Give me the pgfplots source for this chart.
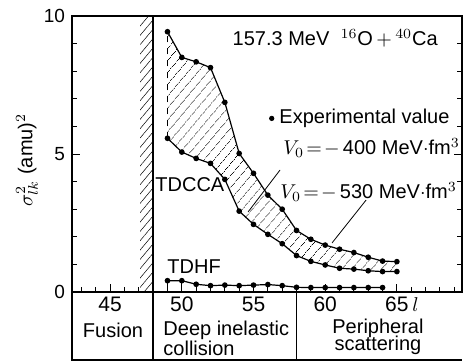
\documentclass[border=0pt]{standalone}
\usepackage{fontspec}
\setmainfont{Liberation Sans}
\usepackage{pgfplots}
\pgfplotsset{compat=1.18}
\usepgfplotslibrary{fillbetween}
\usetikzlibrary{patterns,patterns.meta}

\begin{document}
\begin{tikzpicture}
\begin{axis}[
  at={(0,0)}, anchor=south west,
  scale only axis, width=195pt, height=138pt,
  xmin=42.34, xmax=69.54, ymin=0, ymax=10,
  xtick={45,50,55,60,65},
  minor xtick={43,44,46,47,48,49,51,52,53,54,56,57,58,59,61,62,63,64,66,67,68,69},
  ytick={0,5,10},
  minor ytick={1,2,3,4,6,7,8,9},
  xtick pos=left, ytick pos=both,
  tick align=inside,
  major tick length=4pt, minor tick length=2.5pt,
  axis line style={line width=0.7pt},
  tick style={line width=0.5pt, black},
  clip=false,
  /pgf/number format/assume math mode=true,
  xticklabel style={font=\fontsize{10.5}{12}\selectfont, yshift=1pt},
  yticklabel style={font=\fontsize{9.5}{11}\selectfont},
]
% fusion hatched band
\addplot[draw=none, pattern={Lines[angle=50,distance=3pt,line width=0.25pt]}]
  coordinates {(47.1,10) (48,10)} \closedcycle;
% band boundaries (invisible, for fill)
\addplot[draw=none, name path=up, forget plot] coordinates {
(49,9.43) (50,8.50) (51,8.34) (52,8.13) (53,6.87) (54,5.02) (55,4.30) (56,3.51)
(57,3.00) (58,2.23) (59,1.91) (60,1.70) (61,1.55) (62,1.43) (63,1.26) (64,1.12) (65,1.10)};
\addplot[draw=none, name path=lo, forget plot] coordinates {
(49,5.57) (50,5.07) (51,4.84) (52,4.66) (53,4.08) (54,2.93) (55,2.45) (56,2.09)
(57,1.75) (58,1.32) (59,1.11) (60,0.98) (61,0.86) (62,0.83) (63,0.77) (64,0.74) (65,0.74)};
\addplot[draw=none, pattern={Lines[angle=50,distance=4pt,line width=0.3pt]}]
  fill between[of=up and lo];
% visible curves
\addplot[black, line width=0.6pt, mark=*, mark size=1.1pt] coordinates {
(49,9.43) (50,8.50) (51,8.34) (52,8.13) (53,6.87) (54,5.02) (55,4.30) (56,3.51)
(57,3.00) (58,2.23) (59,1.91) (60,1.70) (61,1.55) (62,1.43) (63,1.26) (64,1.12) (65,1.10)};
\addplot[black, line width=0.6pt, mark=*, mark size=1.1pt] coordinates {
(49,5.57) (50,5.07) (51,4.84) (52,4.66) (53,4.08) (54,2.93) (55,2.45) (56,2.09)
(57,1.75) (58,1.32) (59,1.11) (60,0.98) (61,0.86) (62,0.83) (63,0.77) (64,0.74) (65,0.74)};
\addplot[black, dashed, line width=0.5pt] coordinates {(49,5.57) (49,9.43)};
% TDHF
\addplot[black, line width=0.6pt, mark=*, mark size=1.1pt] coordinates {
(49,0.41) (50,0.41) (51,0.28) (52,0.23) (53,0.25) (54,0.23) (55,0.25) (56,0.27)
(57,0.23) (58,0.17) (59,0.16) (60,0.16) (61,0.16) (62,0.16) (63,0.16) (64,0.16)};
\addplot[black, ycomb, line width=0.5pt] coordinates {(49,0.41) (50,0.41)};
% experimental value legend dot
\addplot[black, only marks, mark=*, mark size=1.1pt] coordinates {(56.27,6.29)};
% annotation lines
\addplot[black, line width=0.4pt] coordinates {(56.85,4.42) (54.62,2.90)};
\addplot[black, line width=0.4pt] coordinates {(62.85,3.33) (60.48,1.78)};
% region separators and bottom table
\addplot[black, line width=0.7pt] coordinates {(48,10) (48,-2.5)};
\addplot[black, line width=0.7pt] coordinates {(58,0) (58,-2.5)};
\addplot[black, line width=0.7pt] coordinates {(42.34,0) (42.34,-2.5)};
\addplot[black, line width=0.7pt] coordinates {(42.34,-2.47) (69.54,-2.47)};
% texts
\node[anchor=west, inner sep=0] at (axis cs:53.52,9.18) {157.3 MeV\ \ $^{16}$O$\,+\,^{40}$Ca};
\node[anchor=west, inner sep=0] at (axis cs:56.78,6.30) {Experimental value};
\node[anchor=west, inner sep=0] at (axis cs:57.06,5.22) {$V_0\!=\!-$\,400 MeV$\cdot$fm$^3$};
\node[anchor=west, inner sep=0] at (axis cs:56.85,3.62) {$V_0\!=\!-$\,530 MeV$\cdot$fm$^3$};
\node[anchor=west, inner sep=0] at (axis cs:48.13,3.88) {TDCCA};
\node[anchor=west, inner sep=0] at (axis cs:48.97,0.91) {TDHF};
\node[inner sep=0] at (axis cs:66.3,-0.45) {$l$};
\node[inner sep=0] at (axis cs:45.2,-1.38) {Fusion};
\node[anchor=west, inner sep=0] at (axis cs:48.69,-1.38) {Deep inelastic};
\node[anchor=west, inner sep=0] at (axis cs:48.69,-2.03) {collision};
\node[inner sep=0] at (axis cs:63.68,-1.30) {Peripheral};
\node[inner sep=0] at (axis cs:63.68,-1.95) {scattering};
\node[rotate=90, inner sep=0] at (axis cs:39.2,4.78) {$\sigma_{lk}^{2}$ (amu)$^{2}$};
\end{axis}
\pgfresetboundingbox
\useasboundingbox (-36pt,-34.5pt) rectangle (195.5pt,146pt);
\end{tikzpicture}
\end{document}
